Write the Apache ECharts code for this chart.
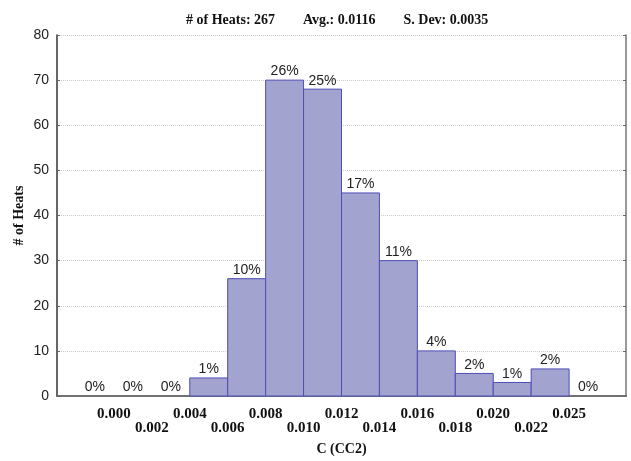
<!DOCTYPE html>
<html>
<head>
<meta charset="utf-8">
<script src="https://cdn.jsdelivr.net/npm/echarts@6/dist/echarts.min.js"></script>
<style>
  html, body { margin: 0; padding: 0; background: #fff; }
  #chart { width: 631px; height: 461px; }
</style>
</head>
<body>
<div id="chart"></div>
<script>
// bin edges (one label per edge, blank at the two outer edges)
const edgeLabels = ['', '0.000', '0.002', '0.004', '0.006', '0.008', '0.010', '0.012',
  '0.014', '0.016', '0.018', '0.020', '0.022', '0.025', ''];
// one count per bin between two edges
const binCounts = [0, 0, 0, 4, 26, 70, 68, 45, 30, 10, 5, 3, 6, 0];
const binPercents = ['0%', '0%', '0%', '1%', '10%', '26%', '25%', '17%', '11%', '4%', '2%', '1%', '2%', '0%'];
const yMin = 0, yMax = 80, yStep = 10;

const titleText = '# of Heats: 267        Avg.: 0.0116        S. Dev: 0.0035';

const serif = '"Liberation Serif", "Times New Roman", serif';
const sans = '"Liberation Sans", Arial, sans-serif';

const chart = echarts.init(document.getElementById('chart'));

const barData = binCounts.map((c, i) => [i, c]);

chart.setOption({
  animation: false,
  backgroundColor: '#fff',
  title: {
    text: titleText,
    left: 181,
    top: 8,
    textStyle: { fontFamily: serif, fontWeight: 'bold', fontSize: 14, color: '#111' }
  },
  grid: { left: 57, right: 5, top: 35, bottom: 59 },
  xAxis: [{
    type: 'category',
    data: edgeLabels,
    position: 'bottom',
    name: 'C (CC2)',
    nameLocation: 'middle',
    nameGap: 46,
    nameTextStyle: { fontFamily: serif, fontWeight: 'bold', fontSize: 14, color: '#111' },
    axisLine: { lineStyle: { color: '#333', width: 1.5 } },
    axisTick: { alignWithLabel: true, inside: true, length: 3, lineStyle: { color: '#555' } },
    axisLabel: {
      interval: 0,
      margin: 11,
      fontFamily: serif,
      fontWeight: 'bold',
      fontSize: 15,
      lineHeight: 14,
      color: '#111',
      formatter: (val, idx) => (idx % 2 === 0 && val ? '\n' + val : val)
    },
    splitLine: { show: false }
  }, {
    type: 'category',
    data: edgeLabels,
    position: 'top',
    axisLine: { lineStyle: { color: '#777', width: 1.5 } },
    axisTick: { alignWithLabel: true, inside: true, length: 4, lineStyle: { color: '#666' } },
    axisLabel: { show: false },
    splitLine: { show: false }
  }],
  yAxis: [{
    type: 'value',
    min: yMin,
    max: yMax,
    interval: yStep,
    name: '# of Heats',
    nameLocation: 'middle',
    nameGap: 31,
    nameMoveOverlap: false,
    nameTextStyle: { fontFamily: serif, fontWeight: 'bold', fontSize: 14, color: '#111' },
    axisLine: { show: true, lineStyle: { color: '#333', width: 1.5 } },
    axisTick: { show: true, inside: true, length: 3, lineStyle: { color: '#666' } },
    axisLabel: { margin: 8, fontFamily: sans, fontSize: 14, color: '#222' },
    splitLine: { show: true, lineStyle: { color: '#ccc', type: 'dotted', width: 1 } }
  }, {
    type: 'value',
    min: yMin,
    max: yMax,
    interval: yStep,
    position: 'right',
    axisLine: { show: true, lineStyle: { color: '#777', width: 1.5 } },
    axisTick: { show: true, inside: true, length: 3, lineStyle: { color: '#666' } },
    axisLabel: { show: false },
    splitLine: { show: false }
  }],
  series: [{
    type: 'custom',
    xAxisIndex: 0,
    yAxisIndex: 0,
    data: barData,
    z: 3,
    renderItem: (params, api) => {
      const i = api.value(0);
      const v = api.value(1);
      const p0 = api.coord([i, v]);
      const p1 = api.coord([i + 1, 0]);
      return {
        type: 'rect',
        shape: { x: p0[0], y: p0[1], width: p1[0] - p0[0], height: p1[1] - p0[1] },
        style: {
          fill: '#a3a3cf',
          stroke: v > 0 ? '#4d4db8' : 'transparent',
          lineWidth: 1
        },
        textContent: {
          style: {
            text: binPercents[params.dataIndex],
            font: '14px ' + sans,
            fill: '#222'
          }
        },
        textConfig: { position: 'top', distance: 1 }
      };
    }
  }]
});
</script>
</body>
</html>
